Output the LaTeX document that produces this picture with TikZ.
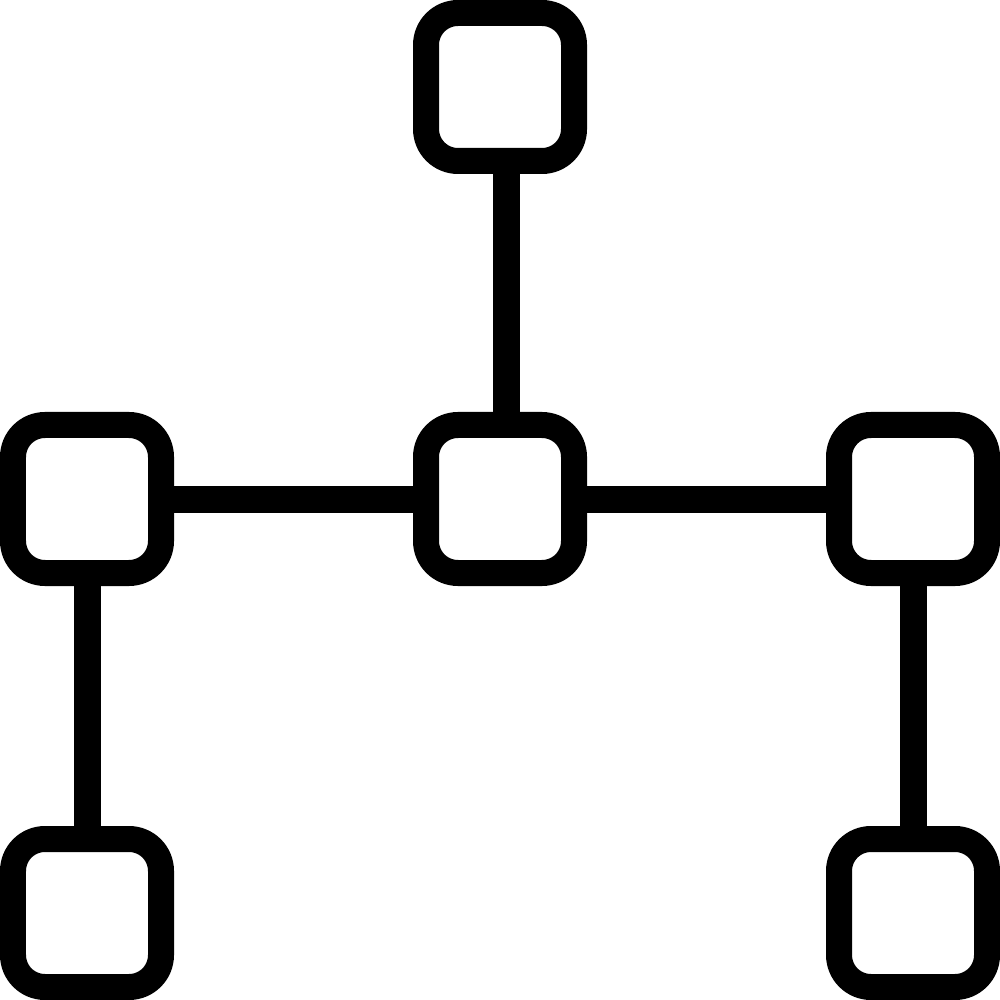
\documentclass[tikz,border=0pt]{standalone}
\usetikzlibrary{positioning,calc}
\tikzset{
   every path/.style={line cap=butt},
   vbox/.style={rectangle,draw=black,line width=0.26cm,rounded corners=0.32cm,
      minimum size=1.48cm,inner sep=0pt,fill=white},
   link/.style={-,draw=black,line width=0.27cm},
}

\begin{document}
\begin{tikzpicture}
      \useasboundingbox (0,0) rectangle (10,-10);

      \node[vbox] (mid) at (5.00,-4.99) {};

      \node[vbox] (top) [above of = mid, node distance = 4.12cm] {};

      \node[vbox] (left) [left of = mid, node distance = 4.13cm] {};

      \node[vbox] (right) [right of = mid, node distance = 4.13cm] {};

      \node[vbox] (leftb) [below of = left, node distance = 4.14cm] {};

      \node[vbox] (rightb) [below of = right, node distance = 4.14cm] {};

      % stem above the middle box sits a little right of centre
      \draw[link] ($(top.south)+(0.065,0)$) -- ($(mid.north)+(0.065,0)$);
      \draw[link] (left.east) -- (mid.west);
      \draw[link] (mid.east) -- (right.west);
      \draw[link] (left.south) -- (leftb.north);
      \draw[link] (right.south) -- (rightb.north);
\end{tikzpicture}
\end{document}
